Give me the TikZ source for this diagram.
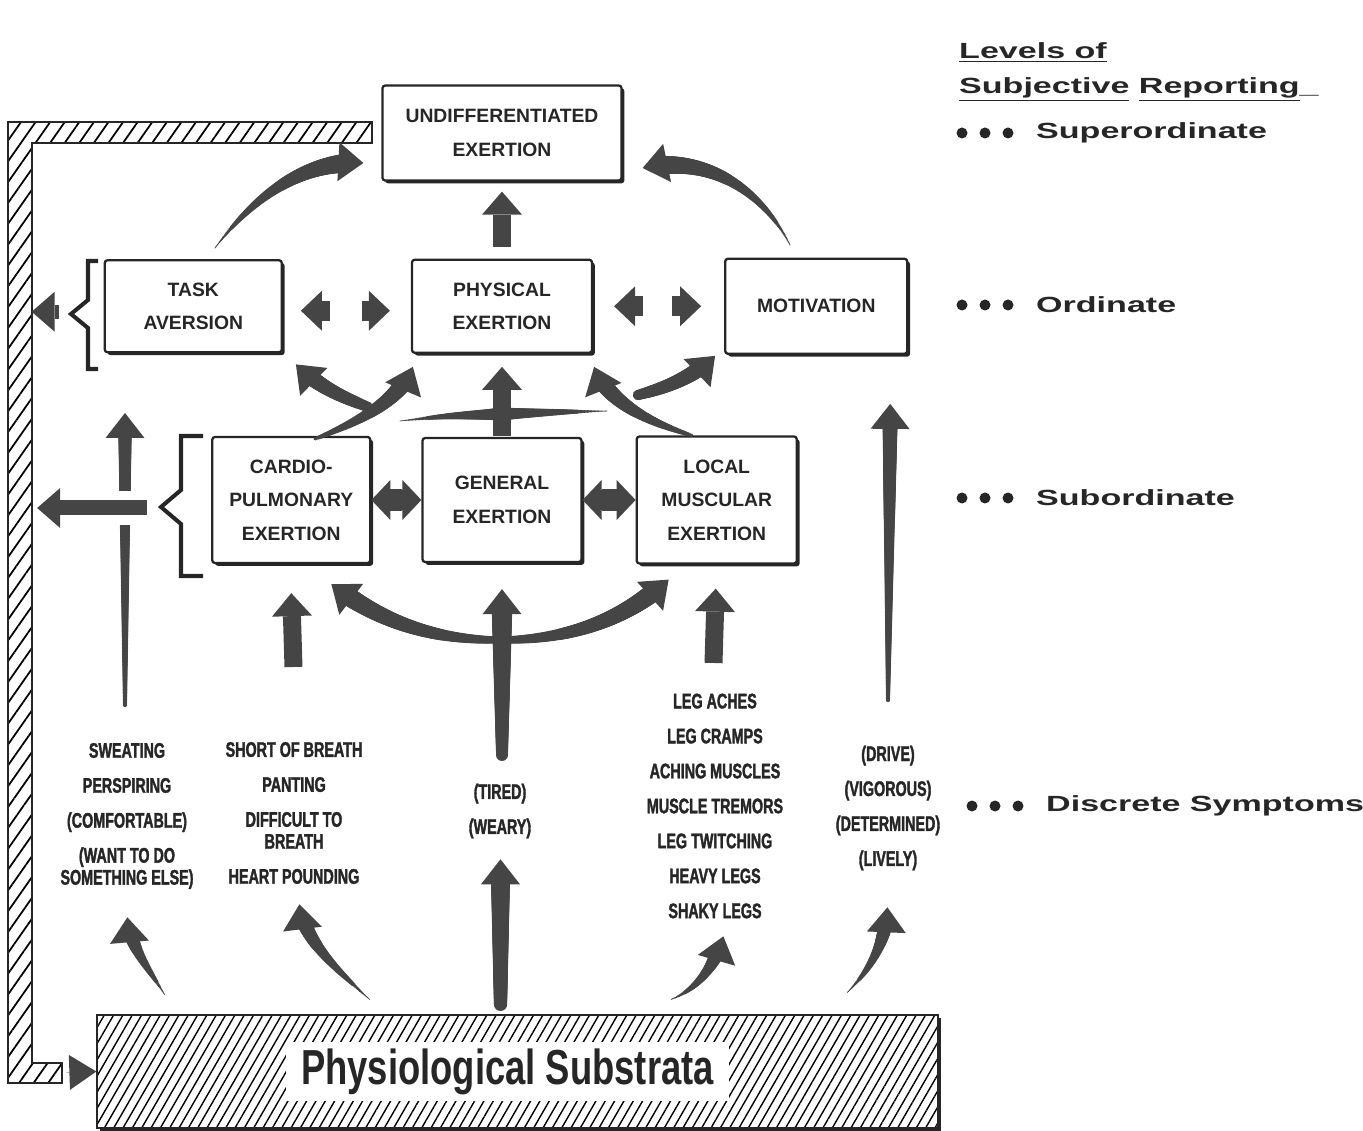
\documentclass[tikz,border=0pt]{standalone}
\usepackage{fontspec}
\newfontfamily\boxfont{Liberation Sans}
\newfontfamily\symfont[FakeStretch=0.68,FakeBold=1.6]{Liberation Sans Bold}
\newfontfamily\basefont[FakeStretch=0.74]{Liberation Sans Bold}
\newfontfamily\levelfont[FakeStretch=1.55]{Liberation Sans Bold}
\usetikzlibrary{positioning,calc,arrows.meta,shadows,patterns.meta,decorations.markings}
\definecolor{arrowgray}{gray}{0.27}
\definecolor{inkgray}{gray}{0.15}

\tikzset{
  levelbox/.style={draw=inkgray, line width=1.3pt, rounded corners=1.5pt, fill=white, align=center,
    text=inkgray, font=\boxfont\bfseries\fontsize{11}{19}\selectfont,
    drop shadow={shadow xshift=1.6pt, shadow yshift=-1.6pt, fill=black!85, opacity=1}},
  substratabox/.style={draw=inkgray, line width=1.6pt,
    drop shadow={shadow xshift=1.8pt, shadow yshift=-1.8pt, fill=black!85, opacity=1},
    preaction={fill=white}, pattern={Lines[angle=60,distance=4.6pt,line width=0.8pt]}},
  symptom/.style={align=center, text=inkgray, font=\symfont\fontsize{12}{19.9}\selectfont},
  levellabel/.style={anchor=west, text=inkgray, font=\levelfont\fontsize{12.5}{20}\selectfont},
  blockarrow/.style={draw=arrowgray, line width=0.36cm, -{Triangle[width=0.8cm,length=0.46cm,line width=0pt]}},
  pairhead/.style={blockarrow, line width=0.4cm, -{Triangle[width=0.8cm,length=0.42cm,line width=0pt]}},
  wingarrow/.style={blockarrow, line width=0.44cm, -{Triangle[width=0.8cm,length=0.38cm,line width=0pt]}},
  bracketline/.style={draw=inkgray, line width=2.3pt, line join=miter},
  taperfill/.style n args={3}{postaction={decorate, decoration={markings,
    mark=between positions 0 and #3 step 0.8pt with {
      \pgfmathsetmacro\taperrad{#1+(#2-#1)*\pgfkeysvalueof{/pgf/decoration/mark info/distance from start}/\pgfdecoratedpathlength}
      \fill[arrowgray] (0,0) circle (\taperrad pt);}}}},
  taperarrow/.style 2 args={draw=arrowgray, line width=0.3pt,
    -{Triangle[width=0.78cm,length=0.5cm,line width=0pt]}, taperfill={#1}{#2}{-0.35cm}},
  taperline/.style 2 args={draw=arrowgray, line width=0.3pt, taperfill={#1}{#2}{1}},
}

\begin{document}
\begin{tikzpicture}[x=0.02cm, y=-0.02cm]
\useasboundingbox (0,0) rectangle (1363,1131);

% exertion levels
\node[levelbox, minimum width=3.18cm, minimum height=2.48cm] (general) at (502,500) {GENERAL\\EXERTION};
\node[levelbox, minimum width=3.16cm, minimum height=2.52cm] (cardio) [left=1cm of general] {CARDIO-\\PULMONARY\\EXERTION};
\node[levelbox, minimum width=3.2cm, minimum height=2.54cm] (local) [right=1.06cm of general] {LOCAL\\MUSCULAR\\EXERTION};
\node[levelbox, minimum width=3.6cm, minimum height=1.86cm] (physical) [above=1.66cm of general] {PHYSICAL\\EXERTION};
\node[levelbox, minimum width=3.54cm, minimum height=1.84cm] (task) [left=2.56cm of physical] {TASK\\AVERSION};
\node[levelbox, minimum width=3.64cm, minimum height=1.9cm] (motivation) [right=2.62cm of physical] {MOTIVATION};
\node[levelbox, minimum width=4.78cm, minimum height=1.9cm] (undiff) [above=1.54cm of physical] {UNDIFFERENTIATED\\EXERTION};

% substrata
\node[substratabox, minimum width=16.82cm, minimum height=2.26cm] (substrata) at (517.5,1071.5) {};
\node[fill=white, inner sep=0pt, minimum width=8.88cm, minimum height=1.2cm, text=inkgray,
  font=\basefont\fontsize{28}{30}\selectfont] (substratalabel) at ($(substrata)+(-10,0)$) {Physiological Substrata};

% feedback band
\draw[draw=inkgray, line width=1.1pt, pattern={Lines[angle=55,distance=6.8pt,line width=1pt]}]
  (8,122) -- (372,122) -- (372,143) -- (32,143) -- (32,1063) -- (62,1063) -- (62,1083) -- (8,1083) -- cycle;
\draw[draw=arrowgray, line width=0.1pt, -{Triangle[width=0.7cm,length=0.54cm,line width=0pt]}]
  ($(substrata.west)+(-30,1)$) -- (substrata.west);

% discrete symptoms
\node[symptom] (sweating) at (127,816) {SWEATING\\PERSPIRING\\(COMFORTABLE)\\(WANT TO DO\\[-7.4pt]SOMETHING ELSE)};
\node[symptom] (breath) at (294,813) {SHORT OF BREATH\\PANTING\\DIFFICULT TO\\[-7.4pt]BREATH\\HEART POUNDING};
\node[symptom] (tired) at (500,811) {(TIRED)\\(WEARY)};
\node[symptom] (legs) at (715,806) {LEG ACHES\\LEG CRAMPS\\ACHING MUSCLES\\MUSCLE TREMORS\\LEG TWITCHING\\HEAVY LEGS\\SHAKY LEGS};
\node[symptom] (drive) at (888,808) {(DRIVE)\\(VIGOROUS)\\(DETERMINED)\\(LIVELY)};

% levels of reporting
\node[anchor=west, align=left, text=inkgray, font=\levelfont\fontsize{12.5}{20}\selectfont] (levelstitle) at (953,72)
  {\underline{Levels of}\\\underline{Subjective} \underline{Reporting}\_};
\node[levellabel] (superord) at (1030,133) {Superordinate};
\node[levellabel] (ordinate) at (1030,305) {Ordinate};
\node[levellabel] (subord) at (1030,498) {Subordinate};
\node[levellabel] (discrete) at (1040,806) {Discrete Symptoms};
\foreach \lv in {superord,ordinate,subord,discrete}
  \foreach \dx in {22,45,68}
    \fill[inkgray] ($(\lv.west)+(-\dx,0)$) circle (5.5);

% free ends
\coordinate (tasktail) at (215,248);
\coordinate (motivtail) at (790,245);
\coordinate (taskfeed) at (368,407);
\coordinate (motivfeed) at (638,395);
\coordinate (barleft) at (400,421);
\coordinate (barright) at (607,411);
\coordinate (barmid) at (502,414);
\coordinate (cardiofeed) at (293.5,667);
\coordinate (localfeed) at (713.5,663);
\coordinate (generalfeed) at (502,755);
\coordinate (crescent) at (500,640);
\coordinate (sweattail) at (125,705);
\coordinate (sweattop) at (125,413);
\coordinate (drivetail) at (888,700);
\coordinate (wingleft) at ($(cardio.east)!0.5!(general.west)$);
\coordinate (wingright) at ($(general.east)!0.5!(local.west)$);

% superordinate
\draw[blockarrow] ($(physical.north)+(0,-12)$) -- ($(undiff.south)+(0,10)$);
\draw[taperarrow={0.3}{6}] (tasktail) .. controls (255,195) and (305,160) .. ($(undiff.west)+(-18,30)$);
\draw[taperarrow={0.3}{6}] (motivtail) .. controls (770,205) and (720,152) .. ($(undiff.east)+(20,35)$);

% ordinate
\draw[pairhead] ($(task.east)+(47,4.5)$) -- ($(task.east)+(18,4.5)$);
\draw[pairhead] ($(physical.west)+(-49,4.5)$) -- ($(physical.west)+(-21,4.5)$);
\draw[pairhead] ($(physical.east)+(50,0)$) -- ($(physical.east)+(21,0)$);
\draw[pairhead] ($(motivation.west)+(-52,0)$) -- ($(motivation.west)+(-23,0)$);
\draw[blockarrow] ($(general.north)+(0,-1)$) -- ($(physical.south)+(0,13)$);
\draw[taperarrow={1}{5.5}] ($(cardio.north)+(24,3)$) .. controls (358,422) and (398,402) .. ($(physical.south west)+(2,13)$);
\draw[taperarrow={3}{5}] (taskfeed) .. controls (345,398) and (320,388) .. ($(task.south east)+(13,11)$);
\draw[taperarrow={1}{5.5}] ($(local.north)+(-25,0)$) .. controls (648,422) and (608,402) .. ($(physical.south east)+(1,13)$);
\draw[taperarrow={3}{5}] (motivfeed) .. controls (665,388) and (692,378) .. ($(motivation.south west)+(-9,1)$);
\draw[taperline={0.2}{3.6}] (barleft) .. controls (445,416) .. (barmid);
\draw[taperline={0.2}{3.6}] (barright) .. controls (560,412) .. (barmid);

% subordinate
\fill[arrowgray] ($(wingleft)+(-12,-10)$) rectangle ($(wingleft)+(12,10)$);
\fill[arrowgray] ($(wingright)+(-12,-10)$) rectangle ($(wingright)+(12,10)$);
\draw[wingarrow] ($(wingleft)+(4,0)$) -- (cardio.east);
\draw[wingarrow] ($(wingleft)+(-4,0)$) -- (general.west);
\draw[wingarrow] ($(wingright)+(4,0)$) -- (general.east);
\draw[wingarrow] ($(wingright)+(-4,0)$) -- (local.west);
\draw[blockarrow] (cardiofeed) -- ($(cardio.south)+(0,29)$);
\draw[blockarrow] (localfeed) -- ($(local.south)+(-1,24)$);
\draw[taperarrow={3.4}{6.2}] (generalfeed) -- ($(general.south)+(0,26)$);
\draw[taperarrow={2}{5.8}] (crescent) .. controls (430,640) and (378,620) .. ($(cardio.south east)+(-40,20)$);
\draw[taperarrow={2}{5.8}] (crescent) .. controls (572,640) and (626,618) .. ($(local.south west)+(33,15)$);
\draw[taperarrow={1.2}{4}] (sweattail) -- (sweattop);
\draw[taperarrow={1.2}{4.5}] (drivetail) -- ($(motivation.south)+(74,49)$);

% task aversion side
\draw[bracketline] (98,261) -- (88,261) -- (88,300) -- (71,314) -- (88,328) -- (88,369) -- (98,369);
\draw[blockarrow, line width=0.28cm] ($(task.west)+(-45,5.5)$) -- ($(task.west)+(-72,5.5)$);
\draw[bracketline] (203,436) -- (181,436) -- (181,490) -- (161,507) -- (181,524) -- (181,576) -- (203,576);
\draw[blockarrow, line width=0.3cm, preaction={draw=white, line width=0.7cm}] ($(cardio.west)+(-64,8)$) -- ($(cardio.west)+(-174,8)$);

% from substrata
\draw[taperarrow={0.3}{5}] ($(substrata.north west)+(68,-20)$) .. controls (150,970) and (130,948) .. ($(substrata.north west)+(31,-97)$);
\draw[taperarrow={0.3}{5}] ($(substrata.north west)+(273,-15)$) .. controls (340,972) and (304,942) .. ($(substrata.north west)+(203,-110)$);
\draw[taperarrow={3.8}{5.7}] ($(substrata.north)+(-17,-10)$) -- ($(substrata.north)+(-17,-155)$);
\draw[taperarrow={0.3}{5}] ($(substrata.north west)+(575,-15)$) .. controls (700,988) and (716,962) .. ($(substrata.north west)+(627,-78)$);
\draw[taperarrow={0.3}{5}] ($(substrata.north west)+(751,-22)$) .. controls (872,968) and (886,940) .. ($(substrata.north west)+(791,-107)$);
\end{tikzpicture}
\end{document}
